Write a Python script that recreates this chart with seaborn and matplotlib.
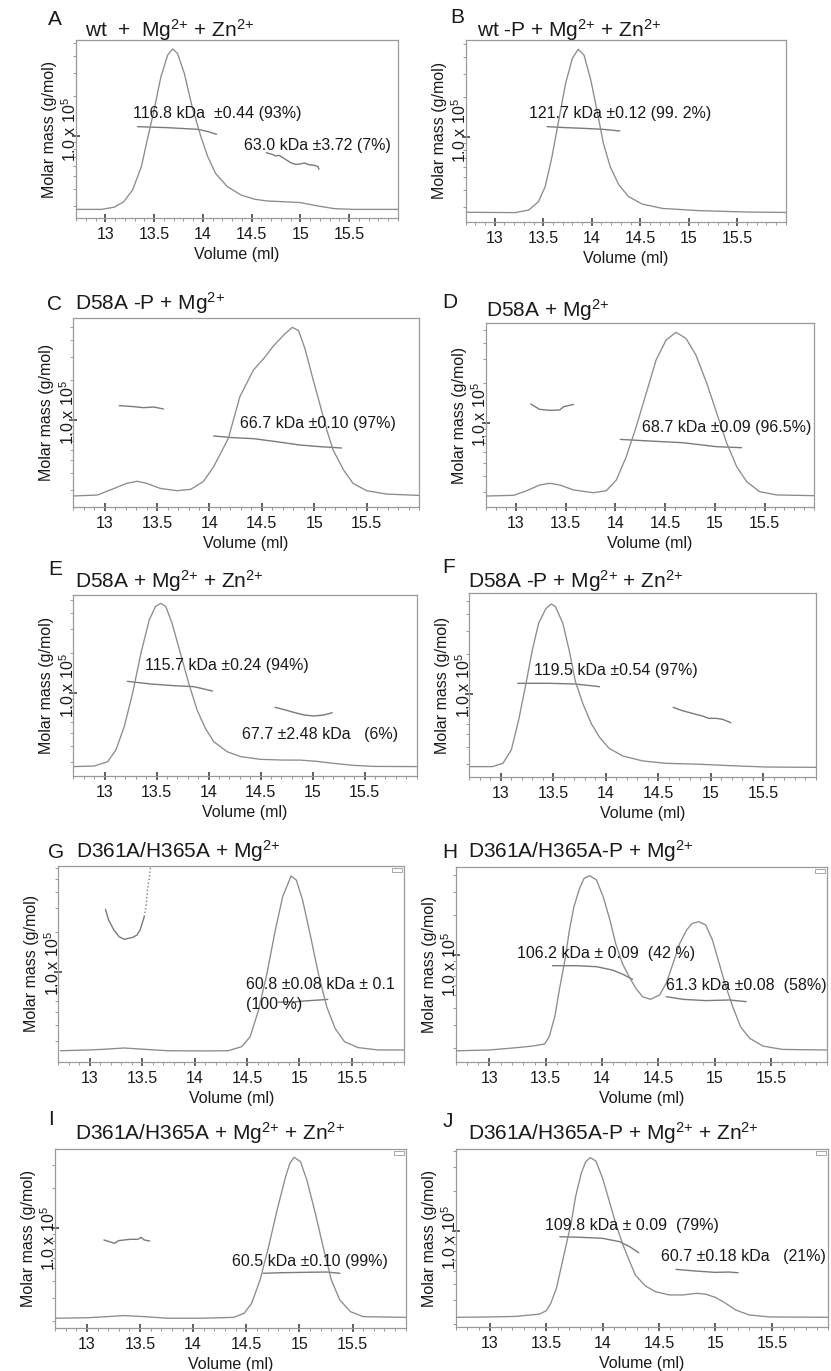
import numpy as np
import matplotlib
matplotlib.use("Agg")
import matplotlib.pyplot as plt
import seaborn as sns
from matplotlib.ticker import MultipleLocator, LogLocator, NullFormatter
from matplotlib.patches import Rectangle

# ---- elution curves (volume in ml, normalised detector signal) ----
a_vol = [12.71, 12.96, 13.09, 13.19, 13.28, 13.37, 13.43, 13.50, 13.57, 13.64, 13.69, 13.74, 13.81, 13.89,
         13.98, 14.05, 14.13, 14.25, 14.39, 14.53, 14.66, 14.83, 15.00, 15.18, 15.35, 15.55, 16.0]
a_sig = [0.050, 0.050, 0.062, 0.093, 0.159, 0.290, 0.439, 0.607, 0.794, 0.916, 0.950, 0.925, 0.813, 0.626,
         0.458, 0.346, 0.252, 0.178, 0.131, 0.107, 0.097, 0.093, 0.088, 0.069, 0.054, 0.050, 0.050]
b_vol = [12.70, 13.21, 13.35, 13.45, 13.52, 13.59, 13.66, 13.73, 13.80, 13.86, 13.92, 13.99, 14.06, 14.12,
         14.19, 14.28, 14.38, 14.52, 14.73, 15.10, 15.62, 16.0]
b_sig = [0.052, 0.050, 0.064, 0.110, 0.193, 0.358, 0.560, 0.761, 0.899, 0.949, 0.917, 0.780, 0.596, 0.431,
         0.303, 0.202, 0.138, 0.097, 0.073, 0.061, 0.053, 0.051]
c_vol = [12.70, 12.93, 13.09, 13.21, 13.31, 13.40, 13.53, 13.69, 13.82, 13.94, 14.04, 14.18, 14.29, 14.42,
         14.52, 14.61, 14.71, 14.79, 14.85, 14.91, 14.99, 15.06, 15.12, 15.18, 15.28, 15.37, 15.50, 15.69, 16.0]
c_sig = [0.057, 0.062, 0.097, 0.124, 0.135, 0.124, 0.097, 0.085, 0.092, 0.133, 0.212, 0.363, 0.584, 0.726,
         0.788, 0.853, 0.912, 0.952, 0.935, 0.841, 0.673, 0.531, 0.407, 0.301, 0.195, 0.124, 0.085, 0.067, 0.060]
d_vol = [12.70, 12.98, 13.11, 13.24, 13.34, 13.44, 13.58, 13.78, 13.91, 14.01, 14.11, 14.21, 14.31, 14.41,
         14.51, 14.61, 14.71, 14.81, 14.92, 15.02, 15.12, 15.22, 15.32, 15.45, 15.62, 16.0]
d_sig = [0.061, 0.065, 0.090, 0.121, 0.130, 0.121, 0.094, 0.079, 0.090, 0.148, 0.274, 0.437, 0.617, 0.798,
         0.906, 0.948, 0.915, 0.825, 0.671, 0.509, 0.347, 0.220, 0.139, 0.085, 0.067, 0.063]
e_vol = [12.71, 12.90, 13.03, 13.11, 13.19, 13.27, 13.35, 13.43, 13.49, 13.54, 13.59, 13.65, 13.73, 13.81,
         13.89, 13.97, 14.05, 14.18, 14.31, 14.50, 14.72, 14.88, 15.04, 15.20, 15.39, 15.59, 16.0]
e_sig = [0.052, 0.055, 0.079, 0.144, 0.273, 0.457, 0.678, 0.862, 0.936, 0.954, 0.936, 0.843, 0.678, 0.512,
         0.365, 0.263, 0.190, 0.134, 0.107, 0.092, 0.088, 0.088, 0.081, 0.070, 0.059, 0.053, 0.052]
f_vol = [12.71, 12.92, 13.02, 13.10, 13.17, 13.24, 13.30, 13.36, 13.43, 13.48, 13.52, 13.59, 13.65, 13.71,
         13.78, 13.86, 13.94, 14.03, 14.16, 14.35, 14.57, 14.89, 15.20, 15.52, 16.0]
f_sig = [0.058, 0.058, 0.076, 0.149, 0.312, 0.511, 0.692, 0.837, 0.918, 0.942, 0.928, 0.837, 0.692, 0.520,
         0.402, 0.293, 0.217, 0.158, 0.116, 0.089, 0.076, 0.071, 0.063, 0.056, 0.054]
g_vol = [12.72, 12.99, 13.12, 13.33, 13.53, 13.75, 14.07, 14.32, 14.45, 14.53, 14.61, 14.69, 14.77, 14.84,
         14.92, 14.97, 15.03, 15.10, 15.18, 15.26, 15.34, 15.43, 15.56, 15.75, 16.0]
g_sig = [0.056, 0.060, 0.063, 0.070, 0.063, 0.056, 0.055, 0.056, 0.077, 0.128, 0.264, 0.451, 0.673, 0.843,
         0.949, 0.928, 0.826, 0.656, 0.451, 0.281, 0.170, 0.102, 0.072, 0.060, 0.060]
h_vol = [12.71, 13.00, 13.24, 13.38, 13.49, 13.53, 13.58, 13.62, 13.67, 13.71, 13.75, 13.80, 13.84, 13.89,
         13.95, 14.01, 14.07, 14.12, 14.18, 14.24, 14.30, 14.36, 14.43, 14.51, 14.57, 14.63, 14.69, 14.75,
         14.80, 14.86, 14.92, 14.98, 15.04, 15.10, 15.16, 15.23, 15.31, 15.43, 15.60, 16.0]
h_sig = [0.056, 0.060, 0.072, 0.080, 0.091, 0.128, 0.231, 0.368, 0.521, 0.675, 0.795, 0.889, 0.940, 0.954,
         0.932, 0.846, 0.726, 0.607, 0.504, 0.436, 0.376, 0.333, 0.320, 0.342, 0.402, 0.504, 0.607, 0.675,
         0.709, 0.718, 0.701, 0.624, 0.504, 0.385, 0.282, 0.179, 0.120, 0.080, 0.063, 0.060]
i_vol = [12.71, 13.01, 13.19, 13.35, 13.54, 13.76, 14.07, 14.38, 14.48, 14.55, 14.63, 14.71, 14.79, 14.87,
         14.91, 14.95, 15.01, 15.07, 15.15, 15.23, 15.30, 15.38, 15.48, 15.60, 16.0]
i_sig = [0.056, 0.059, 0.065, 0.071, 0.065, 0.056, 0.056, 0.061, 0.084, 0.139, 0.270, 0.455, 0.660, 0.846,
         0.920, 0.954, 0.929, 0.827, 0.641, 0.437, 0.270, 0.158, 0.093, 0.065, 0.061]
j_vol = [12.71, 13.00, 13.23, 13.44, 13.50, 13.54, 13.59, 13.63, 13.67, 13.72, 13.76, 13.81, 13.85, 13.89,
         13.94, 14.00, 14.06, 14.12, 14.18, 14.24, 14.29, 14.38, 14.47, 14.59, 14.71, 14.83, 14.91, 15.00,
         15.09, 15.18, 15.30, 15.48, 16.0]
j_sig = [0.053, 0.055, 0.058, 0.071, 0.090, 0.132, 0.216, 0.329, 0.442, 0.583, 0.733, 0.865, 0.930, 0.953,
         0.934, 0.836, 0.705, 0.573, 0.461, 0.367, 0.291, 0.229, 0.197, 0.179, 0.179, 0.188, 0.184, 0.165,
         0.132, 0.094, 0.066, 0.055, 0.053]

# ---- molar mass traces (volume in ml, g/mol) ----
a_m1_vol = [13.33, 13.64, 13.95, 14.05, 14.14]
a_m1 = [117500, 115500, 112200, 108000, 103000]
a_m2_vol = [14.65, 14.70, 14.75, 14.78, 14.83, 14.90, 14.95, 15.00, 15.04, 15.09, 15.14, 15.18, 15.19]
a_m2 = [74900, 73200, 70700, 71600, 68000, 63000, 61200, 61600, 62700, 60800, 60200, 58800, 56200]
b_m1_vol = [13.54, 13.73, 13.90, 14.11, 14.29]
b_m1 = [120300, 118200, 116900, 114900, 111600]
c_m1_vol = [13.14, 13.28, 13.37, 13.47, 13.56]
c_m1 = [128200, 126000, 123800, 125200, 121000]
c_m2_vol = [14.04, 14.23, 14.42, 14.64, 14.86, 15.06, 15.26]
c_m2 = [75800, 73600, 72400, 68700, 64900, 63000, 61600]
d_m1_vol = [13.15, 13.24, 13.34, 13.44, 13.48, 13.58]
d_m1 = [138100, 126000, 123800, 124500, 131900, 137300]
d_m2_vol = [14.05, 14.35, 14.68, 15.02, 15.27]
d_m2 = [74900, 72800, 70700, 66000, 64900]
e_m1_vol = [13.22, 13.45, 13.67, 13.86, 14.04]
e_m1 = [121700, 116200, 112900, 111000, 102900]
e_m2_vol = [14.64, 14.72, 14.82, 14.92, 15.01, 15.11, 15.19]
e_m2 = [77600, 74900, 71100, 68000, 66800, 68000, 70700]
f_m1_vol = [13.16, 13.46, 13.71, 13.94]
f_m1 = [120300, 120300, 118900, 113500]
f_m2_vol = [14.64, 14.73, 14.82, 14.92, 14.98, 15.05, 15.11, 15.19]
f_m2 = [79300, 74900, 71600, 68300, 65600, 65600, 64500, 60900]
g_m1_vol = [13.15, 13.18, 13.23, 13.28, 13.33, 13.37, 13.41, 13.45, 13.48, 13.52]
g_m1 = [294200, 244600, 205700, 183300, 175100, 178100, 181200, 188700, 205700, 259200]
g_m1b_vol = [13.52, 13.54, 13.55, 13.57, 13.58]
g_m1b = [259200, 326400, 411000, 518000, 616000]
g_m2_vol = [14.80, 14.97, 15.08, 15.18, 15.27]
g_m2 = [59000, 59500, 60500, 61200, 61900]
h_m1_vol = [13.56, 13.77, 13.95, 14.09, 14.18, 14.27]
h_m1 = [83100, 83100, 81700, 77100, 71900, 65600]
h_m2_vol = [14.57, 14.72, 14.92, 15.13, 15.28]
h_m2 = [48600, 46400, 45400, 45900, 44600]
i_m1_vol = [13.16, 13.21, 13.26, 13.30, 13.35, 13.41, 13.48, 13.51, 13.54, 13.57, 13.59]
i_m1 = [81700, 79400, 77100, 80800, 81700, 82700, 82700, 85600, 81700, 80800, 80300]
i_m2_vol = [14.66, 14.85, 15.07, 15.26, 15.38]
i_m2 = [45900, 46400, 46700, 46900, 45900]
j_m1_vol = [13.62, 13.82, 14.00, 14.15, 14.24, 14.32]
j_m1 = [90100, 89100, 87600, 82700, 75800, 68300]
j_m2_vol = [14.65, 14.83, 15.00, 15.12, 15.20]
j_m2 = [51200, 49700, 48600, 48900, 48300]

# ---- text ----
panel_letters = ["A", "B", "C", "D", "E", "F", "G", "H", "I", "J"]
ion = {"mg": r"Mg$^{2{+}}$", "zn": r"Zn$^{2{+}}$"}
panel_titles = [
    "wt  +  " + ion["mg"] + " + " + ion["zn"],
    "wt -P + " + ion["mg"] + " + " + ion["zn"],
    "D58A -P + " + ion["mg"],
    "D58A + " + ion["mg"],
    "D58A + " + ion["mg"] + " + " + ion["zn"],
    "D58A -P + " + ion["mg"] + " + " + ion["zn"],
    "D361A/H365A + " + ion["mg"],
    "D361A/H365A-P + " + ion["mg"],
    "D361A/H365A + " + ion["mg"] + " + " + ion["zn"],
    "D361A/H365A-P + " + ion["mg"] + " + " + ion["zn"],
]
panel_notes = [
    ["116.8 kDa  ±0.44 (93%)", "63.0 kDa ±3.72 (7%)"],
    ["121.7 kDa ±0.12 (99. 2%)"],
    ["66.7 kDa ±0.10 (97%)"],
    ["68.7 kDa ±0.09 (96.5%)"],
    ["115.7 kDa ±0.24 (94%)", "67.7 ±2.48 kDa   (6%)"],
    ["119.5 kDa ±0.54 (97%)"],
    ["60.8 ±0.08 kDa ± 0.1", "(100 %)"],
    ["106.2 kDa ± 0.09  (42 %)", "61.3 kDa ±0.08  (58%)"],
    ["60.5 kDa ±0.10 (99%)"],
    ["109.8 kDa ± 0.09  (79%)", "60.7 ±0.18 kDa   (21%)"],
]
x_ticks = [13, 13.5, 14, 14.5, 15, 15.5]
x_tick_labels = ["13", "13.5", "14", "14.5", "15", "15.5"]

curves = [(a_vol, a_sig), (b_vol, b_sig), (c_vol, c_sig), (d_vol, d_sig), (e_vol, e_sig),
          (f_vol, f_sig), (g_vol, g_sig), (h_vol, h_sig), (i_vol, i_sig), (j_vol, j_sig)]
mass_traces = [
    [(a_m1_vol, a_m1, "-"), (a_m2_vol, a_m2, "-")],
    [(b_m1_vol, b_m1, "-")],
    [(c_m1_vol, c_m1, "-"), (c_m2_vol, c_m2, "-")],
    [(d_m1_vol, d_m1, "-"), (d_m2_vol, d_m2, "-")],
    [(e_m1_vol, e_m1, "-"), (e_m2_vol, e_m2, "-")],
    [(f_m1_vol, f_m1, "-"), (f_m2_vol, f_m2, "-")],
    [(g_m1_vol, g_m1, "-"), (g_m1b_vol, g_m1b, ":"), (g_m2_vol, g_m2, "-")],
    [(h_m1_vol, h_m1, "-"), (h_m2_vol, h_m2, "-")],
    [(i_m1_vol, i_m1, "-"), (i_m2_vol, i_m2, "-")],
    [(j_m1_vol, j_m1, "-"), (j_m2_vol, j_m2, "-")],
]

# ---- layout (pixels): axes box, y of the 1e5 tick, letter/title baselines, note anchors ----
W, H = 831, 1371
boxes = [(76, 40, 398, 218.3), (465.7, 40, 785.7, 221.7), (73.3, 318.3, 419, 506.7),
         (486, 322.7, 814.3, 507.3), (73.3, 595, 416.5, 776), (469.3, 593.3, 816, 777.3),
         (58.3, 866, 404.3, 1061.7), (455.7, 866.7, 827.3, 1061.7), (55, 1149, 405.7, 1328.3),
         (456, 1149.3, 828.3, 1326.7)]
tick_px = [136, 137.3, 420, 422.7, 692.7, 694, 971.7, 955, 1228.3, 1230.7]
letter_pos = [(48, 25), (450, 23), (47, 310), (442, 308), (48, 575), (442, 573),
              (48, 858), (442, 858), (48, 1125), (443, 1127)]
title_pos = [(85, 37), (477, 37), (75, 310), (486, 317), (75, 588), (468, 588),
             (76, 858), (468, 858), (75, 1140), (468, 1140)]
note_pos = [[(13.28, 0.589), (14.42, 0.411)], [(13.35, 0.596)], [(14.29, 0.439)], [(14.27, 0.433)],
            [(13.39, 0.608), (14.32, 0.230)], [(13.32, 0.583)], [(14.49, 0.392), (14.49, 0.290)],
            [(13.24, 0.556), (14.57, 0.393)], [(14.37, 0.372)], [(13.49, 0.568), (14.52, 0.395)]]
legend_icon = [False, False, False, False, False, False, True, True, True, True]
PX_PER_DECADE = 133

sns.set_theme(style="white")
plt.rcParams["font.family"] = ["Liberation Sans", "DejaVu Sans"]
plt.rcParams["mathtext.fontset"] = "custom"
plt.rcParams["mathtext.rm"] = "Liberation Sans"
plt.rcParams["mathtext.it"] = "Liberation Sans:italic"
plt.rcParams["mathtext.bf"] = "Liberation Sans:bold"

curve_color = "#8c8c8c"
mass_color = "#7a7a7a"
frame_color = "#9a9a9a"
text_color = "#1a1a1a"

fig = plt.figure(figsize=(W / 100, H / 100), dpi=100)

for k in range(10):
    l, t, r, b = boxes[k]
    ax = fig.add_axes([l / W, 1 - b / H, (r - l) / W, (b - t) / H])
    ax.set_yscale("log")

    # molar mass traces on the left (log) axis
    for mv, mm, ls in mass_traces[k]:
        sns.lineplot(x=mv, y=mm, ax=ax, color=mass_color, linewidth=1.0, linestyle=ls, sort=False)

    # elution profile on a hidden twin axis
    ax2 = ax.twinx()
    vol, sig = curves[k]
    sns.lineplot(x=vol, y=sig, ax=ax2, color=curve_color, linewidth=0.95, sort=False)
    ax2.set_ylim(0, 1)
    ax2.set_yticks([])
    ax2.set_ylabel("")
    ax2.tick_params(right=False, labelright=False)
    for s in ax2.spines.values():
        s.set_visible(False)

    for (nx, ny), txt in zip(note_pos[k], panel_notes[k]):
        ax2.text(nx, ny, txt, fontsize=11.5, ha="left", va="center", color=text_color)

    ax.set_xlim(12.7, 16.0)
    ax.set_ylim(1e5 * 10 ** (-(b - tick_px[k]) / PX_PER_DECADE),
                1e5 * 10 ** ((tick_px[k] - t) / PX_PER_DECADE))

    ax.set_xticks(x_ticks)
    ax.set_xticklabels(x_tick_labels)
    ax.xaxis.set_minor_locator(MultipleLocator(0.1))
    ax.set_yticks([1e5])
    ax.yaxis.set_minor_locator(LogLocator(base=10, subs=np.arange(2, 10)))
    ax.yaxis.set_minor_formatter(NullFormatter())
    ax.tick_params(axis="x", which="major", direction="inout", length=6, width=1.1, color="#333333",
                   labelsize=11.5, labelcolor=text_color, pad=3.5, bottom=True, top=False)
    ax.tick_params(axis="x", which="minor", direction="out", length=2.5, width=0.6, color="#888888",
                   bottom=True, top=False)
    ax.tick_params(axis="y", which="major", direction="inout", length=6, width=1.1, color="#333333",
                   left=True, right=False, labelleft=False)
    ax.tick_params(axis="y", which="minor", direction="out", length=2.5, width=0.6, color="#888888",
                   left=True, right=False, labelleft=False)
    for s in ax.spines.values():
        s.set_color(frame_color)
        s.set_linewidth(0.9)

    ax.set_xlabel("Volume (ml)", fontsize=11.5, color=text_color, labelpad=3.5)
    ax.set_ylabel("Molar mass (g/mol)\n1.0 x 10$^5$", fontsize=11.5, color=text_color,
                  labelpad=-5.5, linespacing=1.25)

    lx, ly = letter_pos[k]
    fig.text(lx / W, 1 - ly / H, panel_letters[k], fontsize=15, color=text_color, va="baseline")
    tx, ty = title_pos[k]
    fig.text(tx / W, 1 - ty / H, panel_titles[k], fontsize=15, color=text_color, va="baseline")

    if legend_icon[k]:
        fig.add_artist(Rectangle(((r - 12) / W, 1 - (t + 6) / H), 10 / W, 4 / H,
                                 transform=fig.transFigure, fill=False,
                                 edgecolor="#999999", linewidth=0.6))

fig.savefig("out.png", dpi=100)
